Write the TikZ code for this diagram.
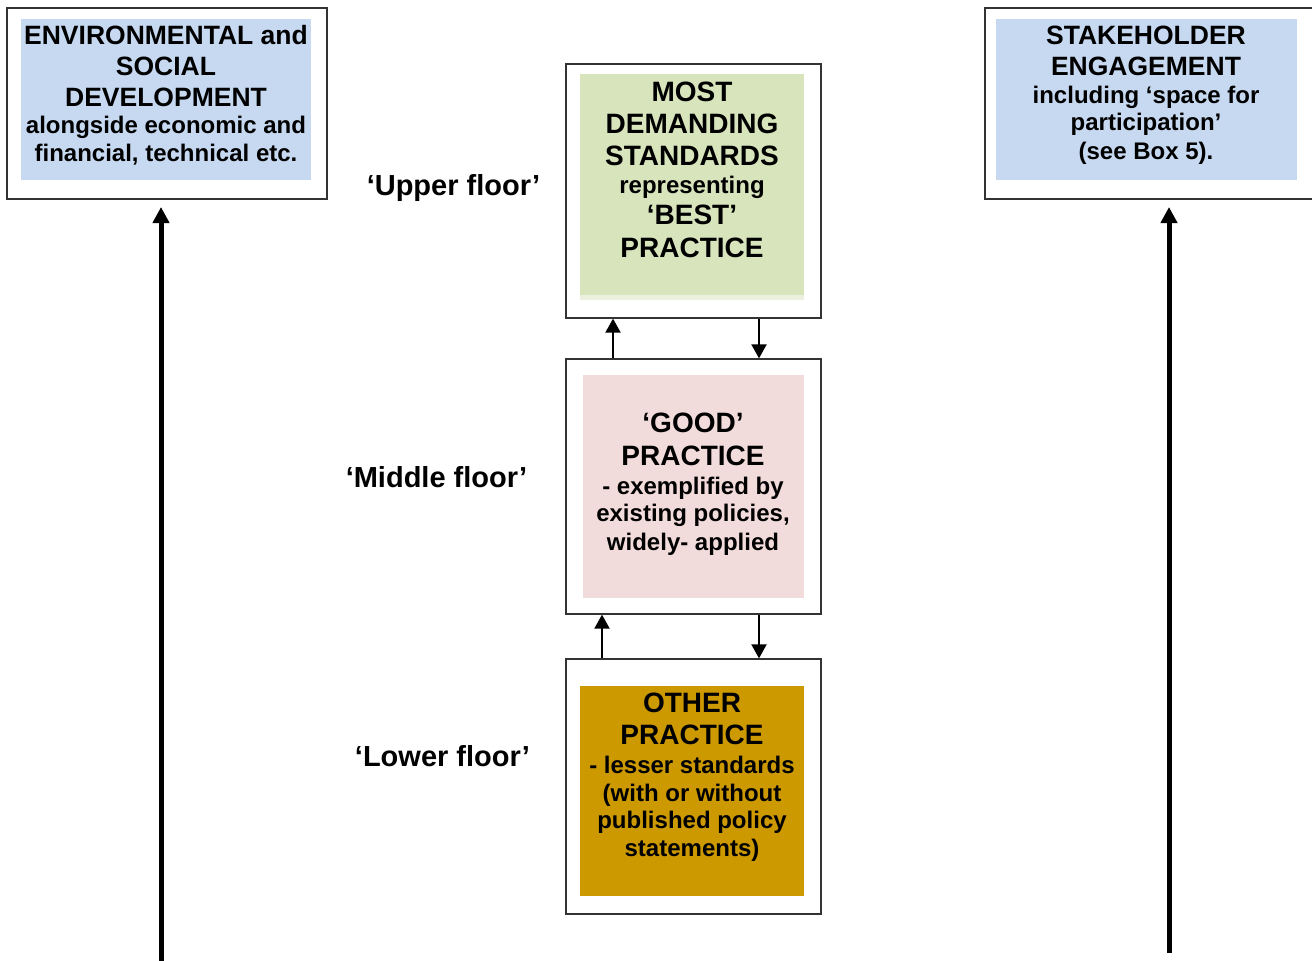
\documentclass[tikz,border=0pt]{standalone}
\usepackage{fontspec}
\setmainfont{Liberation Sans}
\usetikzlibrary{arrows.meta}
\definecolor{bluefill}{HTML}{C6D9F0}
\definecolor{greenfill}{HTML}{D7E4BC}
\definecolor{greenlight}{HTML}{EBF1DE}
\definecolor{pinkfill}{HTML}{F2DCDB}
\definecolor{goldfill}{HTML}{CC9900}
\definecolor{frame}{HTML}{333333}
\tikzset{
  frm/.style={draw=frame,line width=1.3pt},
  big/.style={anchor=base,inner sep=0pt,font=\fontsize{26.5}{30}\selectfont\bfseries},
  bigc/.style={anchor=base,inner sep=0pt,font=\fontsize{28}{32}\selectfont\bfseries},
  small/.style={anchor=base,inner sep=0pt,font=\fontsize{24}{28}\selectfont\bfseries},
  floor/.style={anchor=base,inner sep=0pt,font=\fontsize{29}{33}\selectfont\bfseries},
  bigarrow/.style={line width=5pt,-{Triangle[width=16pt,length=16pt]}},
  smallarrow/.style={line width=2pt,-{Triangle[width=15pt,length=14pt]}},
}
\begin{document}
\begin{tikzpicture}[x=1pt,y=-1pt]
\useasboundingbox (0,0) rectangle (1312,961);
\clip (0,0) rectangle (1312,961);
\fill[white] (0,0) rectangle (1312,961);
% outer frames
\draw[frm] (7,8) rectangle (327,199);
\coordinate (envbox) at (167,199);
\draw[frm] (985,8) rectangle (1330,199);
\coordinate (stkbox) at (1169,199);
\node[frm,minimum width=255pt,minimum height=254pt,inner sep=0pt] (upper) at (693.5,191) {};
\node[frm,minimum width=255pt,minimum height=255pt,inner sep=0pt] (middle) at (693.5,486.5) {};
\node[frm,minimum width=255pt,minimum height=255pt,inner sep=0pt] (lower) at (693.5,786.5) {};
% inner fills
\fill[bluefill] (21,19) rectangle (311,180);
\fill[bluefill] (996,19) rectangle (1297,180);
\fill[greenfill] (580,74) rectangle (804,295);
\fill[greenlight] (580,295) rectangle (804,300);
\fill[pinkfill] (583,375) rectangle (804,598);
\fill[goldfill] (580,686) rectangle (804,896);
% left box text
\node[big] (e1) at (166,44) {ENVIRONMENTAL and};
\node[big] (e2) at (166,75) {SOCIAL};
\node[big] (e3) at (166,106) {DEVELOPMENT};
\node[small] (e4) at (166,133) {alongside economic and};
\node[small] (e5) at (166,161) {financial, technical etc.};
% right box text
\node[big] (s1) at (1146,44) {STAKEHOLDER};
\node[big] (s2) at (1146,75.5) {ENGAGEMENT};
\node[small] (s3) at (1146,103.5) {including ‘space for};
\node[small] (s4) at (1146,130) {participation’};
\node[small] (s5) at (1146,159) {(see Box 5).};
% upper box text
\node[bigc] (u1) at (692,101) {MOST};
\node[bigc] (u2) at (692,133) {DEMANDING};
\node[bigc] (u3) at (692,165) {STANDARDS};
\node[small] (u4) at (692,193) {representing};
\node[bigc] (u5) at (692,224) {‘BEST’};
\node[bigc] (u6) at (692,257) {PRACTICE};
% middle box text
\node[bigc] (m1) at (693,432) {‘GOOD’};
\node[bigc] (m2) at (693,465) {PRACTICE};
\node[small] (m3) at (693,494) {- exemplified by};
\node[small] (m4) at (693,521) {existing policies,};
\node[small] (m5) at (693,550) {widely- applied};
% lower box text
\node[bigc] (l1) at (692,712.5) {OTHER};
\node[bigc] (l2) at (692,744) {PRACTICE};
\node[small] (l3) at (692,773) {- lesser standards};
\node[small] (l4) at (692,801) {(with or without};
\node[small] (l5) at (692,828) {published policy};
\node[small] (l6) at (692,856) {statements)};
% floor labels
\node[floor] (fu) at (453.5,195) {‘Upper floor’};
\node[floor] (fm) at (436.5,487) {‘Middle floor’};
\node[floor] (fl) at (442.5,766) {‘Lower floor’};
% small arrows
\draw[smallarrow] ([xshift=-80.5pt]middle.north) -- ([xshift=-80.5pt]upper.south);
\draw[smallarrow] ([xshift=65.5pt]upper.south) -- ([xshift=65.5pt]middle.north);
\draw[smallarrow] ([xshift=-91.5pt]lower.north) -- ([xshift=-91.5pt]middle.south);
\draw[smallarrow] ([xshift=65.5pt]middle.south) -- ([xshift=65.5pt]lower.north);
% long arrows
\coordinate (lbot) at (161,965);
\coordinate (rbot) at (1169,953);
\draw[bigarrow,shorten >=8pt] (lbot) -- (lbot |- envbox);
\draw[bigarrow,shorten >=8pt] (rbot) -- (rbot |- stkbox);
\end{tikzpicture}
\end{document}
